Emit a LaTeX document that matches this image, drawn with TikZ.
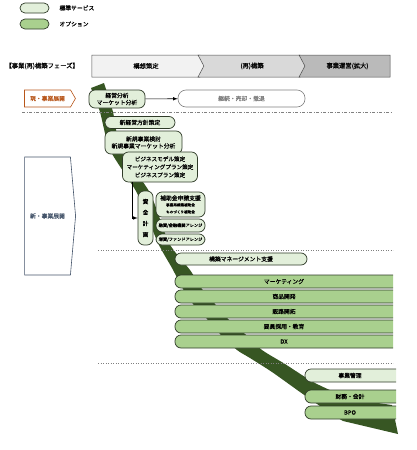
\documentclass[tikz,border=0pt]{standalone}
\usepackage{fontspec}
\setmainfont{Noto Sans CJK JP}[AutoFakeBold=0.6]
\usetikzlibrary{shapes.symbols}

\definecolor{stdgreen}{HTML}{E2EFDA}
\definecolor{optgreen}{HTML}{A9D08E}
\definecolor{flowgreen}{HTML}{375623}
\definecolor{boxline}{HTML}{2F3B28}
\definecolor{nowbrown}{HTML}{B8561A}
\definecolor{newslate}{HTML}{44546A}

\newcommand{\smalltxt}{\fontsize{3.6}{4.5}\selectfont}

\begin{document}
\begin{tikzpicture}[x=1pt, y=-1pt, font=\fontsize{5.8}{7}\selectfont\bfseries,
    service/.style={draw=boxline, fill=stdgreen, line width=0.7pt,
      rounded corners=6pt, align=center, inner sep=0pt},
    option/.style={service, fill=optgreen},
    phase/.style={signal, draw=black!70, line width=0.5pt, inner sep=0pt,
      minimum height=22pt, signal pointer angle=124,
      font=\fontsize{6.3}{7}\selectfont\bfseries},
    track/.style={signal, signal to=east, line width=0.6pt, fill=white,
      inner sep=0pt},
    divider/.style={gray, line width=0.5pt}]

  \useasboundingbox (0,0) rectangle (416,450);

  % legend
  \node[service, rounded corners=5pt, minimum width=29pt, minimum height=10pt] (legstd) at (34.5,8) {};
  \node[anchor=west] (legstdtxt) at (56,8) {標準サービス};
  \node[option, rounded corners=5pt, minimum width=29pt, minimum height=10pt] (legopt) at (34.5,24) {};
  \node[anchor=west] (legopttxt) at (56,24) {オプション};

  % phases
  \node[anchor=west, font=\fontsize{6.3}{7}\selectfont\bfseries] (phasetitle) at (2,66) {【事業(再)構築フェーズ】};
  \node[phase, fill=black!5, minimum width=114pt] (ph1) at (146,66) {構想策定};
  \node[phase, fill=black!15, signal from=west, minimum width=108pt] (ph2) at (252,66) {(再)構築};
  \node[phase, fill=black!27, signal from=west, signal to=nowhere, minimum width=91pt] (ph3) at (347.5,66) {事業運営(拡大)};

  % flow band
  \fill[flowgreen] plot[smooth, tension=0.4] coordinates {(104,83) (113,112)
      (121,150) (150,193) (169,243) (190,270) (202,289) (215,304) (228,319)
      (245,334) (262,350) (285,364) (315,383) (350,398) (392,405)}
    -- (398,434)
    -- plot[smooth, tension=0.4] coordinates {(343,421) (330,413) (300,392)
      (272,372) (250,358) (237,350) (220,334) (207,319) (193,304) (183,289)
      (172,268) (158,243) (137,193) (110,150) (100,112) (91,88)}
    -- cycle;

  % current business
  \node[track, draw=nowbrown, text=nowbrown, minimum width=51pt, minimum height=17pt,
    signal pointer angle=120] (nowbiz) at (47.5,98.5) {現・事業展開};
  \node[service, minimum width=56pt, minimum height=18pt] (analysis) at (117,99) {経営分析\\マーケット分析};
  \node[draw=gray, text=gray, fill=white, line width=0.6pt, rounded corners=8pt,
    minimum width=127pt, minimum height=17pt] (exit) at (241.5,98.5) {継続・売却・撤退};
  \draw[-latex, line width=0.6pt] (analysis) -- (exit);

  \draw[divider, dash pattern=on 3pt off 1.5pt on 1pt off 1.5pt] (22,112) -- (393,112);

  % new business
  \node[track, draw=newslate, text=newslate, minimum width=51pt, minimum height=118pt,
    signal pointer angle=170] (newbiz) at (47.5,216) {新・事業展開};

  \node[service, minimum width=70pt, minimum height=12pt] (policy) at (140,122.5) {新経営方針策定};
  \node[service, minimum width=77pt, minimum height=23pt] (newplan) at (143.5,142.5) {新規事業検討\\新規事業マーケット分析};
  \node[service, minimum width=75pt, minimum height=30pt,
    font=\fontsize{5.6}{8}\selectfont\bfseries] (bizplan) at (160,167) {ビジネスモデル策定\\マーケティングプラン策定\\ビジネスプラン策定};

  \node[service, minimum width=15pt, minimum height=54pt,
    font=\fontsize{5.8}{11}\selectfont\bfseries] (fund) at (145.5,218) {資\\金\\計\\画};
  \node[service, minimum width=49pt, minimum height=25pt] (subsidy) at (180.5,204.5)
    {補助金申請支援\\[-1pt]\smalltxt 事業再構築補助金\\\smalltxt ものづくり補助金};
  \node[service, minimum width=49pt, minimum height=13pt,
    font=\fontsize{4.2}{5.5}\selectfont\bfseries] (loan) at (180.5,225.5) {融資/金融機関アレンジ};
  \node[service, minimum width=49pt, minimum height=11pt,
    font=\fontsize{4.2}{5.5}\selectfont\bfseries] (equity) at (180.5,239.5) {増資/ファンドアレンジ};
  \draw[-latex, line width=0.6pt] ([xshift=10pt]bizplan.south west) |- (fund.west);

  \draw[divider, dotted] (98,250) -- (393,250);

  % build
  \node[service, minimum width=132pt, minimum height=12pt] (buildmgmt) at (241,259) {構築マネージメント支援};
  \foreach \y/\al/\lab in {%
    281.5/marketing/マーケティング,%
    296.5/product/商品開発,%
    311.5/channel/販路開拓,%
    326.5/staff/要員採用・教育,%
    341.5/dx/DX%
  }{ \path[option] (393,\y-6.5) -- (175,\y-6.5) -- (175,\y+6.5) -- (393,\y+6.5);
     \node (\al) at (284,\y) {\lab}; }

  \draw[divider, dotted] (98,363) -- (393,363);

  % operate
  \foreach \y/\st/\al/\lab in {%
    375.5/service/control/事業管理,%
    396.5/option/finance/財務・会計,%
    412.5/option/bpo/BPO%
  }{ \path[\st] (396,\y-6.5) -- (305,\y-6.5) -- (305,\y+6.5) -- (396,\y+6.5);
     \node (\al) at (350,\y) {\lab}; }
\end{tikzpicture}
\end{document}
